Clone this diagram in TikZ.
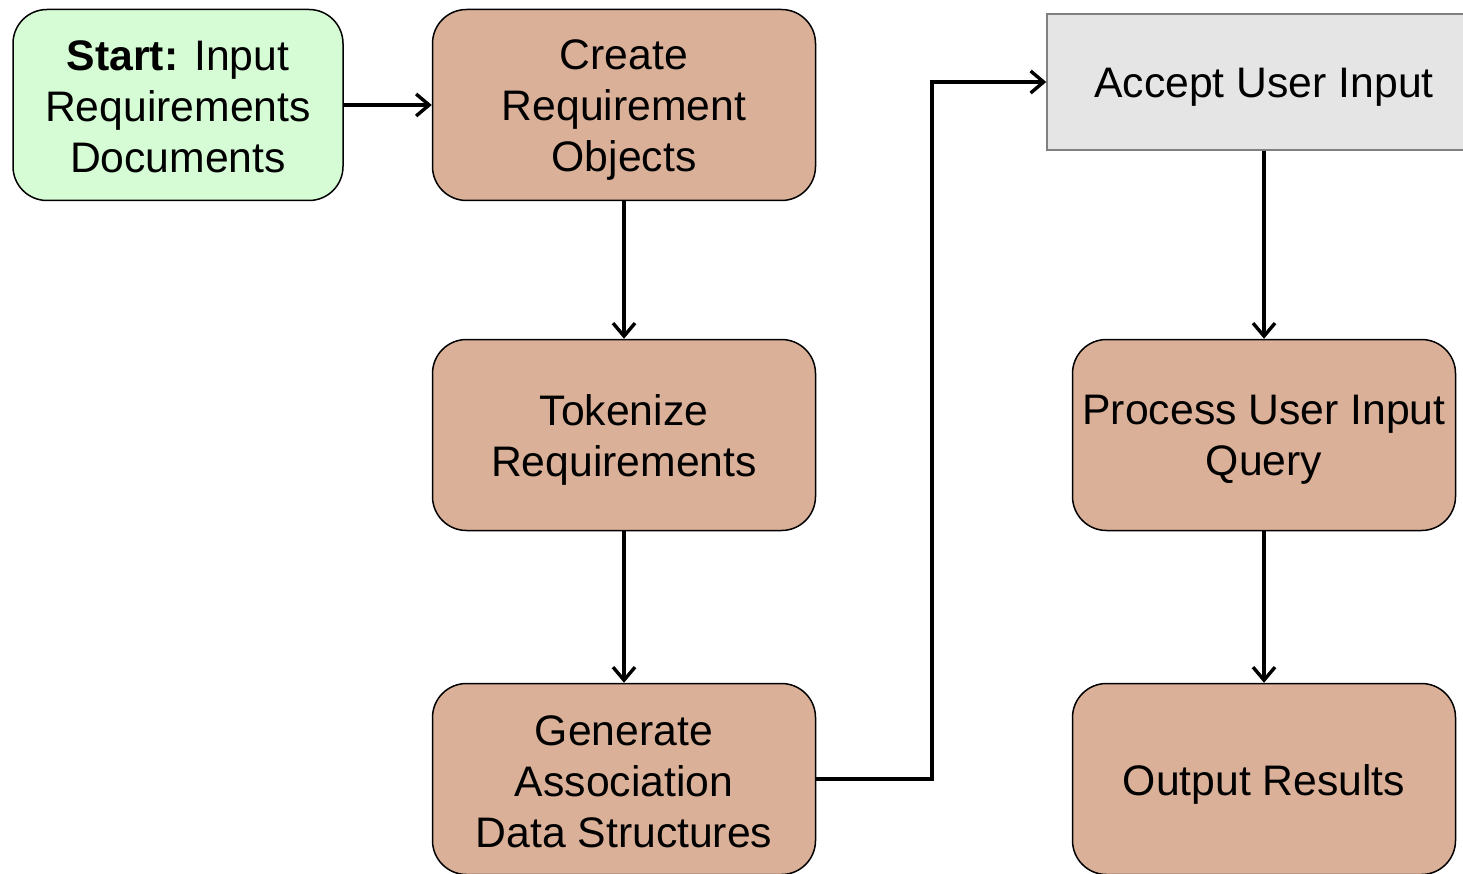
\documentclass[tikz,border=0pt]{standalone}
\usepackage{fontspec}
\setmainfont{Liberation Sans}
\usetikzlibrary{arrows.meta}
\definecolor{startgreen}{RGB}{213,252,213}
\definecolor{stepbrown}{RGB}{219,176,152}
\definecolor{inputgrey}{RGB}{229,229,229}
\definecolor{inputedge}{RGB}{128,128,128}
\tikzset{
  box/.style={draw=black, line width=1.5pt, rounded corners=34pt,
    minimum width=383pt, minimum height=191pt, inner sep=0pt},
  stepbox/.style={box, fill=stepbrown},
  startbox/.style={box, fill=startgreen, minimum width=330pt},
  greybox/.style={draw=inputedge, line width=1.5pt, fill=inputgrey,
    minimum width=434pt, minimum height=136pt, inner sep=0pt},
  boxtext/.style={inner sep=0pt, align=center, font=\fontsize{42.7}{51}\selectfont},
  flow/.style={line width=3.4pt, -{Straight Barb[length=13pt,width=22pt,line width=3.4pt]}}
}
\begin{document}
\begin{tikzpicture}[x=1pt,y=-1pt]
\useasboundingbox (0,0) rectangle (1463,874);
\clip (0,0) rectangle (1463,874);
\fill[white] (0,0) rectangle (1463,874);

% boxes
\node[startbox] (start) at (178,105) {};
\node[stepbox] (create) at (624,105) {};
\node[stepbox] (token) at (624,435) {};
\node[stepbox] (gen) at (624,779) {};
\node[greybox] (accept) at (1264,82) {};
\node[stepbox] (proc) at (1264,435) {};
\node[stepbox] (out) at (1264,779) {};

% labels, set slightly below the box centres
\node[boxtext] (starttext) at ([yshift=-2pt]start.center) {\textbf{Start:} Input\\Requirements\\Documents};
\node[boxtext] (createtext) at ([yshift=-5pt]create.center) {Create\\Requirement\\Objects};
\node[boxtext] (tokentext) at ([yshift=-5pt]token.center) {Tokenize\\Requirements};
\node[boxtext] (gentext) at ([yshift=-3pt]gen.center) {Generate\\Association\\Data Structures};
\node[boxtext] (accepttext) at ([yshift=-5pt]accept.center) {Accept User Input};
\node[boxtext] (proctext) at ([yshift=-5pt]proc.center) {Process User Input\\Query};
\node[boxtext] (outtext) at ([yshift=-5pt]out.center) {Output Results};

\coordinate (bendlow) at (932,779);
\coordinate (bendhigh) at (932,82);

% connectors
\draw[flow] (start.east) -- (create.west);
\draw[flow] (create.south) -- (token.north);
\draw[flow] (token.south) -- (gen.north);
\draw[flow] (gen.east) -- (bendlow) -- (bendhigh) -- (accept.west);
\draw[flow] (accept.south -| proc.north) -- (proc.north);
\draw[flow] (proc.south) -- (out.north);
\end{tikzpicture}
\end{document}
